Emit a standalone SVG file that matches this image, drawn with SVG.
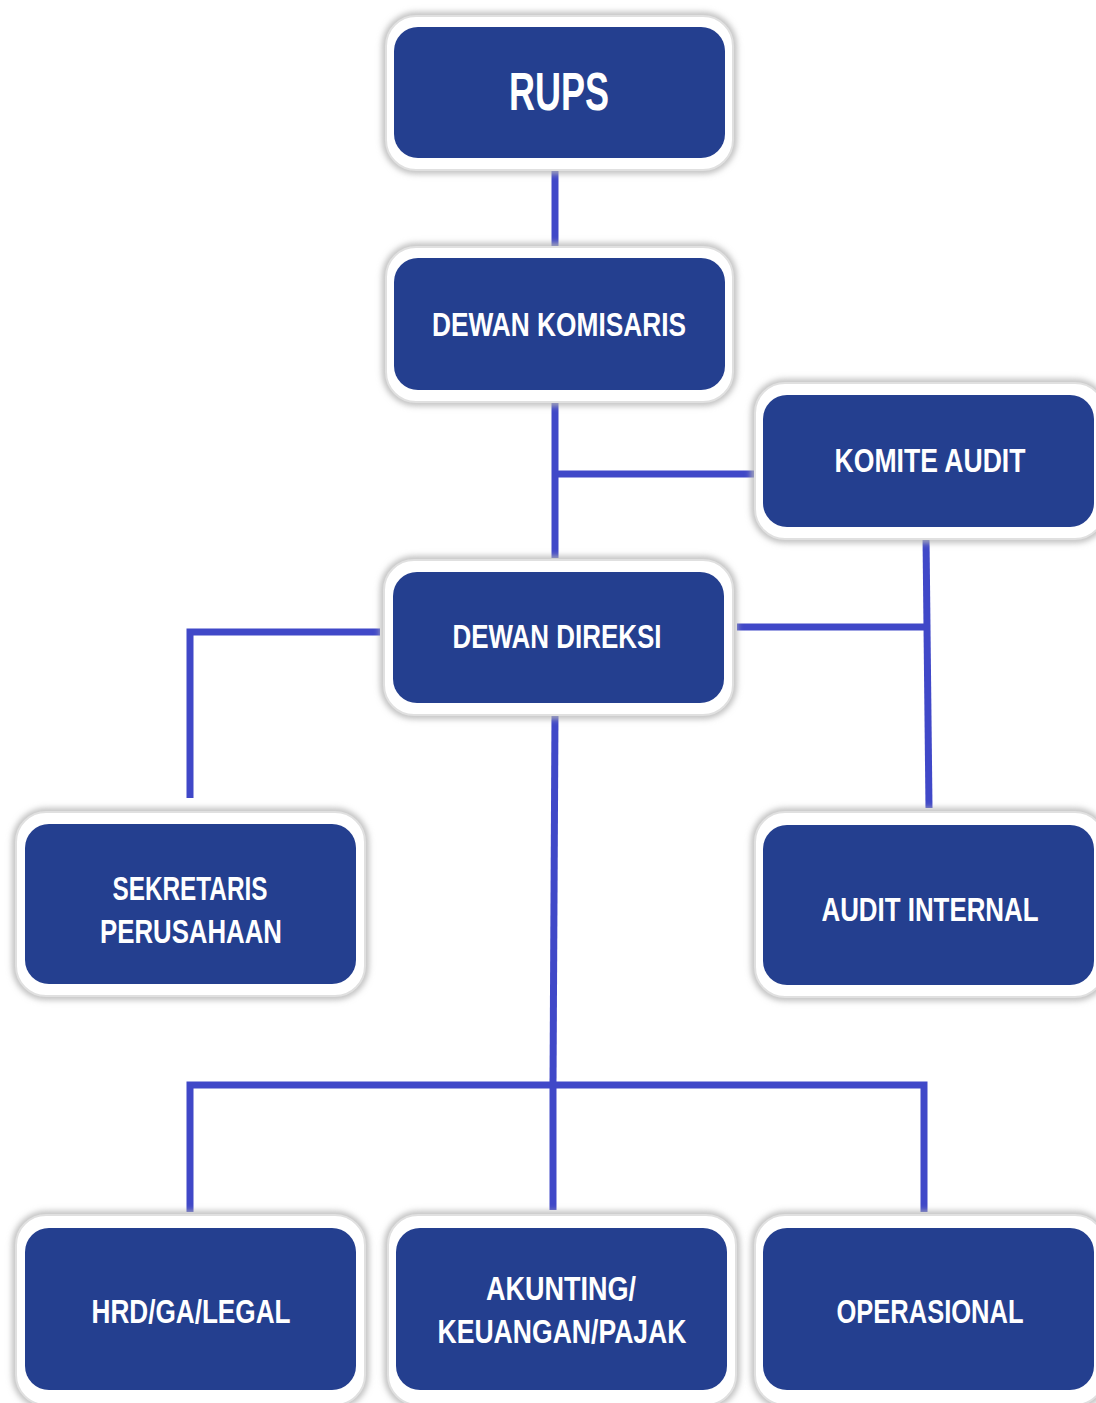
<svg xmlns="http://www.w3.org/2000/svg" width="1096" height="1403" viewBox="0 0 1096 1403">
<defs>
<filter id="sh" x="-10%" y="-10%" width="120%" height="120%">
<feGaussianBlur stdDeviation="3"/>
</filter>
<style>
.sh{fill:none;stroke:#b5b5b5;stroke-width:7;filter:url(#sh)}
.out{fill:#ffffff;stroke:#e0e0e0;stroke-width:2}
.in{fill:#243F8F}
.t{fill:#ffffff;font-family:"Liberation Sans",Arial,sans-serif;font-weight:bold;font-size:33px;text-anchor:middle}
.big{font-size:54px}
.c{stroke:#4048C8;stroke-width:7;fill:none;stroke-linecap:butt}
</style>
</defs>
<rect width="1096" height="1403" fill="#ffffff"/>
<g id="connectors">
<line class="c" x1="555" y1="168" x2="555" y2="247"/>
<line class="c" x1="555" y1="402" x2="555" y2="558"/>
<line class="c" x1="555" y1="474" x2="756" y2="474"/>
<line class="c" x1="926" y1="537" x2="929" y2="808"/>
<line class="c" x1="737" y1="627" x2="927" y2="627"/>
<polyline class="c" points="380,632 190,632 190,798"/>
<line class="c" x1="555" y1="714" x2="553" y2="1085"/>
<polyline class="c" points="190,1212 190,1085 924,1085 924,1212"/>
<line class="c" x1="553" y1="1085" x2="553" y2="1210"/>
</g>
<g id="rups">
<rect class="sh" x="386" y="16" width="347" height="154" rx="30"/>
<rect class="out" x="386" y="16" width="347" height="154" rx="30"/>
<rect class="in" x="394" y="27" width="331" height="131" rx="24"/>
<text class="t big" x="559" y="110" textLength="100" lengthAdjust="spacingAndGlyphs">RUPS</text>
</g>
<g id="dewan-komisaris">
<rect class="sh" x="386" y="247" width="347" height="155" rx="30"/>
<rect class="out" x="386" y="247" width="347" height="155" rx="30"/>
<rect class="in" x="394" y="258" width="331" height="132" rx="24"/>
<text class="t" x="559" y="336" textLength="254" lengthAdjust="spacingAndGlyphs">DEWAN KOMISARIS</text>
</g>
<g id="komite-audit">
<rect class="sh" x="755" y="383" width="350" height="156" rx="30"/>
<rect class="out" x="755" y="383" width="350" height="156" rx="30"/>
<rect class="in" x="763" y="395" width="331" height="132" rx="24"/>
<text class="t" x="930" y="472" textLength="191" lengthAdjust="spacingAndGlyphs">KOMITE AUDIT</text>
</g>
<g id="dewan-direksi">
<rect class="sh" x="384" y="560" width="349" height="155" rx="30"/>
<rect class="out" x="384" y="560" width="349" height="155" rx="30"/>
<rect class="in" x="393" y="572" width="331" height="131" rx="24"/>
<text class="t" x="557" y="648" textLength="209" lengthAdjust="spacingAndGlyphs">DEWAN DIREKSI</text>
</g>
<g id="sekretaris-perusahaan">
<rect class="sh" x="16" y="812" width="349" height="184" rx="30"/>
<rect class="out" x="16" y="812" width="349" height="184" rx="30"/>
<rect class="in" x="25" y="824" width="331" height="160" rx="24"/>
<text class="t" x="190" y="900" textLength="155" lengthAdjust="spacingAndGlyphs">SEKRETARIS</text>
<text class="t" x="191" y="943" textLength="182" lengthAdjust="spacingAndGlyphs">PERUSAHAAN</text>
</g>
<g id="audit-internal">
<rect class="sh" x="755" y="812" width="350" height="185" rx="30"/>
<rect class="out" x="755" y="812" width="350" height="185" rx="30"/>
<rect class="in" x="763" y="825" width="331" height="160" rx="24"/>
<text class="t" x="930" y="921" textLength="217" lengthAdjust="spacingAndGlyphs">AUDIT INTERNAL</text>
</g>
<g id="hrd-ga-legal">
<rect class="sh" x="16" y="1215" width="349" height="190" rx="30"/>
<rect class="out" x="16" y="1215" width="349" height="190" rx="30"/>
<rect class="in" x="25" y="1228" width="331" height="162" rx="24"/>
<text class="t" x="191" y="1323" textLength="199" lengthAdjust="spacingAndGlyphs">HRD/GA/LEGAL</text>
</g>
<g id="akunting-keuangan-pajak">
<rect class="sh" x="388" y="1215" width="348" height="190" rx="30"/>
<rect class="out" x="388" y="1215" width="348" height="190" rx="30"/>
<rect class="in" x="396" y="1228" width="331" height="162" rx="24"/>
<text class="t" x="561" y="1300" textLength="150" lengthAdjust="spacingAndGlyphs">AKUNTING/</text>
<text class="t" x="562" y="1343" textLength="249" lengthAdjust="spacingAndGlyphs">KEUANGAN/PAJAK</text>
</g>
<g id="operasional">
<rect class="sh" x="755" y="1215" width="350" height="190" rx="30"/>
<rect class="out" x="755" y="1215" width="350" height="190" rx="30"/>
<rect class="in" x="763" y="1228" width="331" height="162" rx="24"/>
<text class="t" x="930" y="1323" textLength="187" lengthAdjust="spacingAndGlyphs">OPERASIONAL</text>
</g>
</svg>
